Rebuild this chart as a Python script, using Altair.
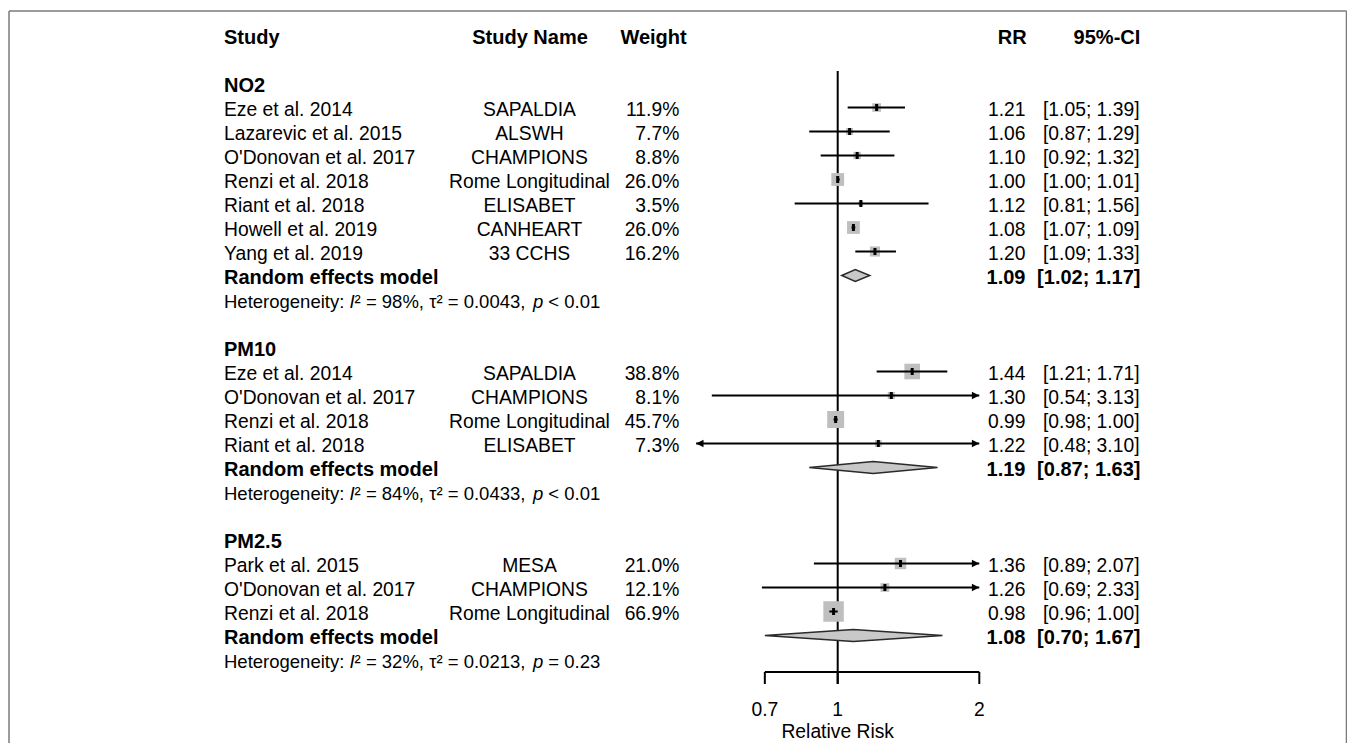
import altair as alt
import pandas as pd

# ---------------- data ----------------
groups = ["NO2", "PM10", "PM2.5"]
group_sizes = [7, 4, 3]
studies = ["Eze et al. 2014", "Lazarevic et al. 2015", "O'Donovan et al. 2017", "Renzi et al. 2018",
           "Riant et al. 2018", "Howell et al. 2019", "Yang et al. 2019",
           "Eze et al. 2014", "O'Donovan et al. 2017", "Renzi et al. 2018", "Riant et al. 2018",
           "Park et al. 2015", "O'Donovan et al. 2017", "Renzi et al. 2018"]
study_names = ["SAPALDIA", "ALSWH", "CHAMPIONS", "Rome Longitudinal", "ELISABET", "CANHEART", "33 CCHS",
               "SAPALDIA", "CHAMPIONS", "Rome Longitudinal", "ELISABET",
               "MESA", "CHAMPIONS", "Rome Longitudinal"]
weights = [11.9, 7.7, 8.8, 26.0, 3.5, 26.0, 16.2,
           38.8, 8.1, 45.7, 7.3,
           21.0, 12.1, 66.9]
rr = [1.21, 1.06, 1.10, 1.00, 1.12, 1.08, 1.20,
      1.44, 1.30, 0.99, 1.22,
      1.36, 1.26, 0.98]
ci_lo = [1.05, 0.87, 0.92, 1.00, 0.81, 1.07, 1.09,
         1.21, 0.54, 0.98, 0.48,
         0.89, 0.69, 0.96]
ci_hi = [1.39, 1.29, 1.32, 1.01, 1.56, 1.09, 1.33,
         1.71, 3.13, 1.00, 3.10,
         2.07, 2.33, 1.00]
pooled_rr = [1.09, 1.19, 1.08]
pooled_lo = [1.02, 0.87, 0.70]
pooled_hi = [1.17, 1.63, 1.67]
het_i2 = ["98%", "84%", "32%"]
het_tau2 = ["0.0043", "0.0433", "0.0213"]
het_p = ["< 0.01", "< 0.01", "= 0.23"]
pooled_label = "Random effects model"
headers = ["Study", "Study Name", "Weight", "RR", "95%-CI"]
x_ticks = [0.7, 1, 2]
x_limits = [0.5, 2]
axis_title = "Relative Risk"

# ---------------- layout rows ----------------
FONT = "Liberation Sans"
FS = 19.3      # regular text
FSB = 20       # bold text
FSH = 18.5     # heterogeneity line
DY = 2.5

study_rows, grp_label_rows, pooled_rows, het_rows = [], [], [], []
r = -1
for g, n in zip(groups, group_sizes):
    grp_label_rows.append(r)
    r += 1
    for _ in range(n):
        study_rows.append(r)
        r += 1
    pooled_rows.append(r)
    r += 1
    het_rows.append(r)
    r += 2

sdf = pd.DataFrame({
    "row": study_rows, "study": studies, "sname": study_names, "w": weights,
    "rr": rr, "lo": ci_lo, "hi": ci_hi,
})
sdf["wtxt"] = [f"{w:.1f}%" for w in weights]
sdf["rrtxt"] = [f"{v:.2f}" for v in rr]
sdf["citxt"] = [f"[{a:.2f}; {b:.2f}]" for a, b in zip(ci_lo, ci_hi)]

gdf = pd.DataFrame({"row": grp_label_rows, "label": groups})
pdf = pd.DataFrame({
    "row": pooled_rows, "label": [pooled_label] * 3,
    "rrtxt": [f"{v:.2f}" for v in pooled_rr],
    "citxt": [f"[{a:.2f}; {b:.2f}]" for a, b in zip(pooled_lo, pooled_hi)],
})
hdf = pd.DataFrame({
    "row": het_rows,
    "s1": ["Heterogeneity:"] * 3,
    "s2": ["I"] * 3,
    "s3": [f"\u00b2 = {i}, \u03c4\u00b2 = {t}," for i, t in zip(het_i2, het_tau2)],
    "s4": ["p"] * 3,
    "s5": [p for p in het_p],
})

DH = 0.25
dia_rows = []
for g, row, e, a, b in zip(groups, pooled_rows, pooled_rr, pooled_lo, pooled_hi):
    dia_rows.append({"g": g, "x": a, "top": row, "bot": row})
    dia_rows.append({"g": g, "x": e, "top": row - DH, "bot": row + DH})
    dia_rows.append({"g": g, "x": b, "top": row, "bot": row})
ddf = pd.DataFrame(dia_rows)

last_row = het_rows[-1]
axis_y = last_row + 0.52
tick_y2 = last_row + 1.02
label_y = last_row + 2.0
title_y = last_row + 2.92

ref_df = pd.DataFrame({"x": [1.0], "y": [-1.52], "y2": [tick_y2]})
axline_df = pd.DataFrame({"x": [min(x_ticks)], "x2": [max(x_ticks)], "y": [axis_y]})
ticks_df = pd.DataFrame({"x": x_ticks, "y": [axis_y] * len(x_ticks), "y2": [tick_y2] * len(x_ticks),
                         "lab": [f"{t:g}" for t in x_ticks], "ly": [label_y] * len(x_ticks)})
title_df = pd.DataFrame({"x": [1.0], "y": [title_y], "t": [axis_title]})

# ---------------- scales ----------------
xscale = alt.Scale(type="log", domain=x_limits, range=[688.1, 971.3], nice=False)
yscale = alt.Scale(domain=[-3, 27], range=[27.5, 747.5], nice=False, zero=False)


def Y(field):
    return alt.Y(field, scale=yscale, axis=None)


def X(field):
    return alt.X(field, scale=xscale, axis=None)


def text_layer(df, field, x, align, bold=False, italic=False, size=None, dy=DY):
    kw = dict(align=align, baseline="middle", font=FONT, color="black", dy=dy,
              fontSize=size if size else (FSB if bold else FS))
    if bold:
        kw["fontWeight"] = "bold"
    if italic:
        kw["fontStyle"] = "italic"
    return alt.Chart(df).mark_text(**kw).encode(x=alt.value(x), y=Y("row:Q"), text=f"{field}:N")


layers = []

# frame
one = pd.DataFrame({"a": [0]})
frame_kw = dict(color="#7a7a7a", strokeWidth=1.5)
layers.append(alt.Chart(one).mark_rule(**frame_kw).encode(x=alt.value(1), x2=alt.value(1338.5), y=alt.value(3)))
layers.append(alt.Chart(one).mark_rule(**frame_kw).encode(x=alt.value(1), y=alt.value(3), y2=alt.value(735)))
layers.append(alt.Chart(one).mark_rule(**frame_kw).encode(x=alt.value(1338.5), y=alt.value(3), y2=alt.value(735)))

# headers
hdr_df = pd.DataFrame({"row": [-3] * len(headers), "h": headers})
hdr_pos = [(216, "left"), (522, "center"), (678.7, "right"), (1018.7, "right"), (1132.3, "right")]
for i, (hx, ha) in enumerate(hdr_pos):
    layers.append(text_layer(hdr_df.iloc[[i]], "h", hx, ha, bold=True))

# group labels
layers.append(text_layer(gdf, "label", 216, "left", bold=True))

# study texts
layers.append(text_layer(sdf, "study", 216, "left"))
layers.append(text_layer(sdf, "sname", 521.5, "center"))
layers.append(text_layer(sdf, "wtxt", 671.3, "right"))
layers.append(text_layer(sdf, "rrtxt", 1017.5, "right"))
layers.append(text_layer(sdf, "citxt", 1131.5, "right"))

# pooled texts
layers.append(text_layer(pdf, "label", 216, "left", bold=True))
layers.append(text_layer(pdf, "rrtxt", 1017.5, "right", bold=True))
layers.append(text_layer(pdf, "citxt", 1132.5, "right", bold=True))

# heterogeneity (segments for italic letters; widths from Arial metrics)
hx0 = 216
sp = 0.278 * FSH
w1 = 6.503 * FSH + sp
w2 = 0.278 * FSH
w3 = 9.359 * FSH + sp
w4 = 0.556 * FSH + sp
layers.append(text_layer(hdf, "s1", hx0, "left", size=FSH))
layers.append(text_layer(hdf, "s2", hx0 + w1, "left", italic=True, size=FSH))
layers.append(text_layer(hdf, "s3", hx0 + w1 + w2, "left", size=FSH))
layers.append(text_layer(hdf, "s4", hx0 + w1 + w2 + w3, "left", italic=True, size=FSH))
layers.append(text_layer(hdf, "s5", hx0 + w1 + w2 + w3 + w4, "left", size=FSH))

# reference line at 1
layers.append(alt.Chart(ref_df).mark_rule(color="black", strokeWidth=2).encode(
    x=X("x:Q"), y=Y("y:Q"), y2="y2:Q"))

# squares
layers.append(alt.Chart(sdf).mark_square(color="#bfbfbf", opacity=1).encode(
    x=X("rr:Q"), y=Y("row:Q"),
    size=alt.Size("w:Q", scale=alt.Scale(domain=[0, 70], range=[0, 440]), legend=None)))

# CI lines (clipped to limits)
ci_base = alt.Chart(sdf).transform_calculate(
    lo_c=f"max(datum.lo, {x_limits[0]})", hi_c=f"min(datum.hi, {x_limits[1]})")
layers.append(ci_base.mark_rule(color="black", strokeWidth=2).encode(
    x=X("lo_c:Q"), x2="hi_c:Q", y=Y("row:Q")))

# point marker
layers.append(alt.Chart(sdf).mark_point(shape="M0,-1L0,1", strokeWidth=3, size=49, color="black",
                                        opacity=1, filled=False).encode(x=X("rr:Q"), y=Y("row:Q")))

# arrows
layers.append(ci_base.transform_filter(f"datum.hi > {x_limits[1]}").mark_point(
    shape="M0,0L-1,-0.5L-1,0.5Z", filled=True, size=220, color="black", opacity=1).encode(
    x=X("hi_c:Q"), y=Y("row:Q")))
layers.append(ci_base.transform_filter(f"datum.lo < {x_limits[0]}").mark_point(
    shape="M0,0L1,-0.5L1,0.5Z", filled=True, size=220, color="black", opacity=1).encode(
    x=X("lo_c:Q"), y=Y("row:Q")))

# diamonds
layers.append(alt.Chart(ddf).mark_area(orient="vertical", fill="#c8c8c8", stroke="#2a2a2a",
                                       strokeWidth=1.5, opacity=1).encode(
    x=X("x:Q"), y=alt.Y("top:Q", scale=yscale, axis=None, stack=False), y2="bot:Q", detail="g:N"))

# custom axis
layers.append(alt.Chart(axline_df).mark_rule(color="black", strokeWidth=2).encode(
    x=X("x:Q"), x2="x2:Q", y=Y("y:Q")))
layers.append(alt.Chart(ticks_df).mark_rule(color="black", strokeWidth=2).encode(
    x=X("x:Q"), y=Y("y:Q"), y2="y2:Q"))
layers.append(alt.Chart(ticks_df).mark_text(font=FONT, fontSize=FS, color="black", baseline="middle",
                                            align="center", dy=DY).encode(x=X("x:Q"), y=Y("ly:Q"), text="lab:N"))
layers.append(alt.Chart(title_df).mark_text(font=FONT, fontSize=FS, color="black", baseline="middle",
                                            align="center", dy=DY).encode(x=X("x:Q"), y=Y("y:Q"), text="t:N"))

chart = alt.layer(*layers).properties(
    width=1339, height=735, padding=0,
    autosize=alt.AutoSizeParams(type="none"),
    background="white",
).configure_view(strokeWidth=0)

chart.save("out.html", embed_options={"renderer": "svg", "actions": False})
